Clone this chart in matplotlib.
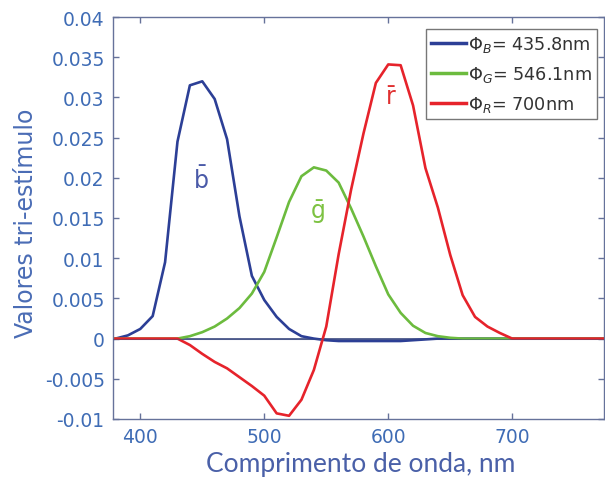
import matplotlib
matplotlib.use("Agg")
import matplotlib.pyplot as plt
import numpy as np

# ---- data ----
wavelength = list(range(380, 790, 10))

b_bar = [0.0000, 0.0004, 0.0012, 0.0028, 0.0095, 0.0245, 0.0315, 0.0320, 0.0298, 0.0248,
         0.0152, 0.0078, 0.0048, 0.0027, 0.0012, 0.0003, 0.0000, -0.0002, -0.0003, -0.0003,
         -0.0003, -0.0003, -0.0003, -0.0003, -0.0002, -0.0001, 0.0000, 0.0000, 0.0000, 0.0000,
         0.0000, 0.0000, 0.0000, 0.0000, 0.0000, 0.0000, 0.0000, 0.0000, 0.0000, 0.0000, 0.0000]

g_bar = [0.0000, 0.0000, 0.0000, 0.0000, 0.0000, 0.0000, 0.0003, 0.0008, 0.0015, 0.0025,
         0.0038, 0.0056, 0.0083, 0.0126, 0.0170, 0.0202, 0.0213, 0.0209, 0.0194, 0.0162,
         0.0127, 0.0090, 0.0055, 0.0032, 0.0016, 0.0007, 0.0003, 0.0001, 0.0000, 0.0000,
         0.0000, 0.0000, 0.0000, 0.0000, 0.0000, 0.0000, 0.0000, 0.0000, 0.0000, 0.0000, 0.0000]

r_bar = [0.0000, 0.0000, 0.0000, 0.0000, 0.0000, 0.0000, -0.0008, -0.0019, -0.0029, -0.0037,
         -0.0048, -0.0059, -0.0071, -0.0093, -0.0096, -0.0076, -0.0039, 0.0015, 0.0105, 0.0185,
         0.0255, 0.0318, 0.0341, 0.0340, 0.0290, 0.0212, 0.0163, 0.0104, 0.0054, 0.0027,
         0.0015, 0.0007, 0.0000, 0.0000, 0.0000, 0.0000, 0.0000, 0.0000, 0.0000, 0.0000, 0.0000]

series_labels = [r'$\Phi_B$= 435.8nm', r'$\Phi_G$= 546.1nm', r'$\Phi_R$= 700nm']
curve_names = [r'$\bar{\mathrm{b}}$', r'$\bar{\mathrm{g}}$', r'$\bar{\mathrm{r}}$']

xticks = [400, 500, 600, 700]
xtick_labels = ['400', '500', '600', '700']
yticks = [-0.01, -0.005, 0, 0.005, 0.01, 0.015, 0.02, 0.025, 0.03, 0.035, 0.04]
ytick_labels = ['-0.01', '-0.005', '0', '0.005', '0.01', '0.015', '0.02', '0.025', '0.03', '0.035', '0.04']

# ---- style ----
plt.rcParams['font.family'] = ['DejaVu Sans']
plt.rcParams['mathtext.fontset'] = 'dejavusans'

c_blue = '#2c3f96'
c_green = '#6cbb3e'
c_red = '#e6232b'
tick_col = '#3f6cb5'
spine_col = '#66729a'

fig = plt.figure(figsize=(6.05, 4.85), dpi=100)
ax = fig.add_axes([113 / 605, (485 - 420) / 485, 491 / 605, 402 / 485])

ax.axhline(0, color='#3c4a80', lw=1.2, zorder=1)
ax.plot(wavelength, b_bar, color=c_blue, lw=1.9, label=series_labels[0], zorder=2)
ax.plot(wavelength, g_bar, color=c_green, lw=1.9, label=series_labels[1], zorder=3)
ax.plot(wavelength, r_bar, color=c_red, lw=1.9, label=series_labels[2], zorder=4)
ax.axhline(0, color='#3c4a80', lw=0.8, alpha=0.45, zorder=5)

ax.set_xlim(378, 774)
ax.set_ylim(-0.01, 0.04)
ax.set_xticks(xticks)
ax.set_xticklabels(xtick_labels)
ax.set_yticks(yticks)
ax.set_yticklabels(ytick_labels)

ax.tick_params(axis='both', direction='in', length=4, width=1, color=spine_col,
               labelcolor=tick_col, labelsize=13.5, top=True, right=True, pad=6)
for s in ax.spines.values():
    s.set_color(spine_col)
    s.set_linewidth(1.0)

ax.set_ylabel('Valores tri-estímulo', color='#4a6cb5', fontsize=17)
ax.yaxis.set_label_coords(-0.152, 0.49)
ax.set_xlabel('Comprimento de onda, nm', color='#4a60a8', fontsize=19,
              family=['Lato', 'DejaVu Sans'])
ax.xaxis.set_label_coords(0.505, -0.08)

# curve labels
ax.text(449, 0.0198, curve_names[0], color='#4a5aa8', fontsize=17, ha='center', va='center', zorder=6)
ax.text(543, 0.0158, curve_names[1], color='#7dc242', fontsize=17, ha='center', va='center', zorder=6)
ax.text(602, 0.0300, curve_names[2], color='#e03030', fontsize=17, ha='center', va='center', zorder=6)

leg = ax.legend(loc='upper right', bbox_to_anchor=(597 / 605, (485 - 30) / 485),
                bbox_transform=fig.transFigure, fontsize=12.7, frameon=True, fancybox=False,
                handlelength=2.0, handletextpad=0.1, labelspacing=0.55, borderpad=0.3,
                borderaxespad=0)
leg.get_frame().set_edgecolor('#555555')
leg.get_frame().set_linewidth(1.0)
for line in leg.get_lines():
    line.set_linewidth(2.5)
for t in leg.get_texts():
    t.set_color('#333333')

fig.savefig('out.png', dpi=100)
